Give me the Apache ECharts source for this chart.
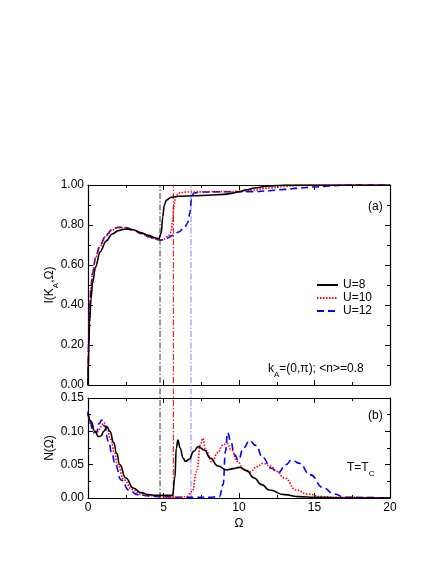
<!DOCTYPE html>
<html>
<head>
<meta charset="utf-8">
<script src="https://cdn.jsdelivr.net/npm/echarts@6/dist/echarts.min.js"></script>
<style>
  body { margin: 0; background: #fff; }
  #main { width: 436px; height: 564px; }
</style>
</head>
<body>
<div id="main"></div>
<script>
// series labels
var seriesNames = ['U=8', 'U=10', 'U=12'];
var xTicks = [0, 5, 10, 15, 20];

// (a) I(K_A, Omega)
var omegaI8 = [0, 0.05, 0.1, 0.2, 0.3, 0.5, 0.8, 1.2, 1.6, 2.0, 2.5, 3.0, 3.5, 4.0, 4.5, 4.7, 4.85, 4.95, 5.05, 5.2, 5.5, 6, 7, 8, 9, 9.5, 10, 10.5, 11, 12, 13, 20];
var valI8 = [0, 0.18, 0.31, 0.43, 0.51, 0.59, 0.665, 0.72, 0.755, 0.772, 0.78, 0.776, 0.762, 0.748, 0.735, 0.732, 0.76, 0.84, 0.9, 0.925, 0.938, 0.944, 0.946, 0.949, 0.953, 0.958, 0.966, 0.976, 0.985, 0.995, 1.0, 1.0];

var omegaI10 = [0, 0.05, 0.1, 0.2, 0.3, 0.5, 0.8, 1.2, 1.6, 2.0, 2.5, 3.0, 3.5, 4.0, 4.5, 4.8, 5.0, 5.3, 5.5, 5.6, 5.7, 5.8, 6.0, 6.5, 8, 10, 11, 12, 13, 14, 15, 20];
var valI10 = [0, 0.24, 0.37, 0.49, 0.56, 0.635, 0.695, 0.745, 0.775, 0.787, 0.786, 0.775, 0.758, 0.742, 0.729, 0.725, 0.728, 0.742, 0.765, 0.82, 0.9, 0.94, 0.96, 0.965, 0.966, 0.968, 0.975, 0.985, 0.993, 0.998, 1.0, 1.0];

var omegaI12 = [0, 0.05, 0.1, 0.2, 0.3, 0.5, 0.8, 1.2, 1.6, 2.0, 2.5, 3.0, 3.5, 4.0, 4.5, 4.8, 5.2, 5.6, 6.0, 6.4, 6.6, 6.75, 6.85, 7.0, 7.5, 9, 11, 12, 13, 14, 15, 16, 17, 20];
var valI12 = [0, 0.22, 0.36, 0.49, 0.56, 0.635, 0.7, 0.75, 0.778, 0.789, 0.787, 0.775, 0.758, 0.742, 0.728, 0.724, 0.733, 0.748, 0.765, 0.788, 0.81, 0.86, 0.93, 0.96, 0.965, 0.966, 0.967, 0.971, 0.978, 0.985, 0.99, 0.995, 1.0, 1.0];

// (b) N(Omega)
var omegaN8 = [0, 0.2, 0.45, 0.7, 0.85, 1.05, 1.25, 1.45, 1.7, 1.9, 2.1, 2.5, 3.0, 3.5, 4.0, 4.5, 5.0, 5.6, 5.75, 5.85, 5.95, 6.1, 6.3, 6.45, 6.7, 7.0, 7.3, 7.7, 8.1, 8.6, 9.2, 9.6, 10.05, 10.5, 11.0, 11.5, 12.0, 13.0, 14.0, 15.0, 17.0, 20.0];
var valN8 = [0.128, 0.115, 0.1, 0.092, 0.093, 0.1, 0.107, 0.1, 0.083, 0.067, 0.05, 0.03, 0.015, 0.008, 0.005, 0.004, 0.004, 0.004, 0.03, 0.075, 0.087, 0.075, 0.06, 0.055, 0.058, 0.07, 0.077, 0.072, 0.06, 0.048, 0.042, 0.044, 0.046, 0.041, 0.03, 0.02, 0.012, 0.005, 0.002, 0.001, 0, 0];

var omegaN10 = [0, 0.2, 0.45, 0.65, 0.85, 1.05, 1.25, 1.5, 1.75, 1.95, 2.4, 2.9, 3.5, 4.0, 4.5, 5.0, 6.0, 6.5, 6.9, 7.2, 7.45, 7.6, 7.8, 8.2, 8.6, 8.9, 9.2, 9.5, 9.9, 10.3, 10.7, 11.2, 11.6, 12.1, 12.5, 13.0, 13.8, 14.5, 15.5, 16.5, 20];
var valN10 = [0.125, 0.112, 0.1, 0.099, 0.107, 0.113, 0.106, 0.088, 0.068, 0.05, 0.027, 0.013, 0.006, 0.004, 0.003, 0.002, 0.001, 0.002, 0.01, 0.04, 0.08, 0.0895, 0.072, 0.054, 0.068, 0.079, 0.082, 0.072, 0.055, 0.043, 0.039, 0.047, 0.052, 0.048, 0.04, 0.03, 0.012, 0.006, 0.002, 0.001, 0];

var omegaN12 = [0, 0.15, 0.35, 0.55, 0.75, 0.9, 1.1, 1.35, 1.6, 1.8, 2.2, 2.7, 3.3, 4.0, 5.0, 6.0, 7.0, 8.0, 8.7, 8.95, 9.1, 9.25, 9.45, 9.7, 9.95, 10.3, 10.7, 11.1, 11.6, 12.1, 12.6, 13.1, 13.5, 14.0, 14.7, 15.6, 16.3, 17.0, 20];
var valN12 = [0.13, 0.112, 0.098, 0.099, 0.112, 0.117, 0.108, 0.085, 0.065, 0.05, 0.027, 0.012, 0.005, 0.003, 0.002, 0.001, 0.001, 0.001, 0.002, 0.02, 0.07, 0.098, 0.085, 0.065, 0.057, 0.075, 0.086, 0.079, 0.06, 0.045, 0.038, 0.05, 0.057, 0.052, 0.035, 0.015, 0.006, 0.001, 0];

// gap-edge markers (dash-dot verticals)
var edgeOmega = [4.77, 5.65, 6.82];
var edgeColors = ['#333333', '#e00000', '#8080ff'];

var colors = ['#000000', '#ff0000', '#0000ff'];
var lineTypes = ['solid', [1.5, 1.5], [7, 4]];

function zip(xs, ys) {
  return xs.map(function (x, i) { return [x, ys[i]]; });
}

var font = 'Liberation Sans';
var txt = { color: '#000', fontFamily: font, fontSize: 12 };

function xAx(grid, pos, showLabel, name) {
  return {
    type: 'value', gridIndex: grid, position: pos, min: 0, max: 20, interval: 5,
    axisLine: { show: true, onZero: false, lineStyle: { color: '#000', width: 1.2 } },
    axisTick: { show: true, inside: true, length: 5, lineStyle: { color: '#000' } },
    minorTick: { show: true, splitNumber: 2, length: 3, lineStyle: { color: '#000' } },
    axisLabel: { show: showLabel, margin: 4, color: '#000', fontFamily: font, fontSize: 12,
      formatter: function (v) { return xTicks.indexOf(v) >= 0 ? String(v) : ''; } },
    splitLine: { show: false },
    name: name || '', nameLocation: 'middle', nameGap: 20, nameMoveOverlap: false,
    nameTextStyle: txt
  };
}

function yAx(grid, pos, max, interval, showLabel, name, gap, rich) {
  return {
    type: 'value', gridIndex: grid, position: pos, min: 0, max: max, interval: interval,
    axisLine: { show: true, onZero: false, lineStyle: { color: '#000', width: 1.2 } },
    axisTick: { show: true, inside: true, length: 5, lineStyle: { color: '#000' } },
    minorTick: { show: true, splitNumber: 2, length: 3, lineStyle: { color: '#000' } },
    axisLabel: { show: showLabel, margin: 4, color: '#000', fontFamily: font, fontSize: 12,
      formatter: function (v) { return v.toFixed(2); } },
    splitLine: { show: false },
    name: name || '', nameLocation: 'middle', nameGap: gap || 30, nameRotate: 90,
    nameMoveOverlap: false,
    nameTextStyle: Object.assign({}, txt, { rich: rich || {} })
  };
}

var subRich = {
  n: { fontFamily: font, fontSize: 12, color: '#000' },
  s: { fontFamily: font, fontSize: 8, color: '#000', verticalAlign: 'bottom', padding: [0, 0, -4, 0] }
};

var series = [];
var topSets = [zip(omegaI8, valI8), zip(omegaI10, valI10), zip(omegaI12, valI12)];
var botSets = [zip(omegaN8, valN8), zip(omegaN10, valN10), zip(omegaN12, valN12)];

edgeOmega.forEach(function (x, i) {
  series.push({
    name: 'edge' + i, type: 'line', xAxisIndex: 4, yAxisIndex: 4,
    data: [[x, 0], [x, 1]], symbol: 'none', silent: true, z: 1,
    lineStyle: { color: edgeColors[i], width: 1, type: [6, 2, 1.5, 2] }
  });
});

seriesNames.forEach(function (n, i) {
  series.push({
    name: n, type: 'line', xAxisIndex: 0, yAxisIndex: 0, data: topSets[i],
    symbol: 'none', smooth: 0.35, smoothMonotone: 'x', z: 5 - i,
    lineStyle: { color: colors[i], width: 1.6, type: lineTypes[i] },
    itemStyle: { color: colors[i] }
  });
  series.push({
    name: n, type: 'line', xAxisIndex: 2, yAxisIndex: 2, data: botSets[i],
    symbol: 'none', smooth: 0.5, smoothMonotone: 'x', z: 5 - i,
    lineStyle: { color: colors[i], width: 1.6, type: lineTypes[i] },
    itemStyle: { color: colors[i] }
  });
});

var chart = echarts.init(document.getElementById('main'));
chart.setOption({
  animation: false,
  backgroundColor: '#fff',
  grid: [
    { left: 88, right: 46, top: 185, height: 200 },
    { left: 88, right: 46, top: 398, height: 100 },
    { left: 88, right: 46, top: 185, height: 313 }
  ],
  xAxis: [
    xAx(0, 'bottom', false), xAx(0, 'top', false),
    xAx(1, 'bottom', true, 'Ω'), xAx(1, 'top', false),
    { type: 'value', gridIndex: 2, min: 0, max: 20, show: false }
  ],
  yAxis: [
    yAx(0, 'left', 1, 0.2, true, '{n|I(K}{s|A}{n|,Ω)}', 32, subRich), yAx(0, 'right', 1, 0.2, false),
    yAx(1, 'left', 0.15, 0.05, true, 'N(Ω)', 32), yAx(1, 'right', 0.15, 0.05, false),
    { type: 'value', gridIndex: 2, min: 0, max: 1, show: false }
  ],
  legend: {
    data: seriesNames, orient: 'vertical', left: 311, top: 274,
    itemWidth: 21, itemHeight: 8, itemGap: 1,
    itemStyle: { opacity: 0 },
    textStyle: Object.assign({}, txt, { lineHeight: 12 }), selectedMode: false
  },
  graphic: [
    { type: 'text', left: 368, top: 201, style: { text: '(a)', font: '12px ' + font, fill: '#000' } },
    { type: 'text', left: 368, top: 410, style: { text: '(b)', font: '12px ' + font, fill: '#000' } },
    { type: 'text', left: 268, top: 363, style: {
      text: '{n|k}{s|A}{n|=(0,π); <n>=0.8}',
      rich: subRich } },
    { type: 'text', left: 347, top: 462, style: {
      text: '{n|T=T}{s|C}',
      rich: subRich } }
  ],
  series: series
});
</script>
</body>
</html>
